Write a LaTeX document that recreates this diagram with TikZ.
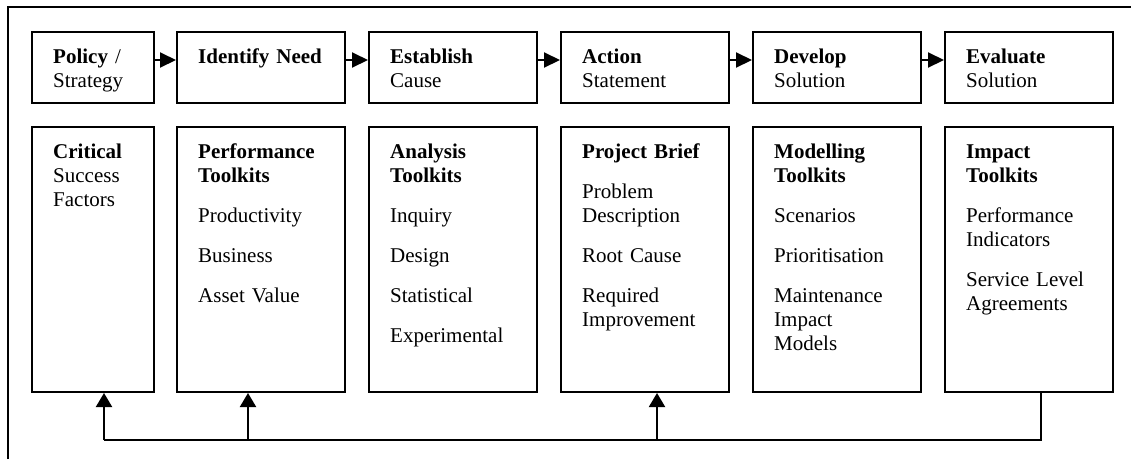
\documentclass[tikz,border=0pt]{standalone}
\usepackage{fontspec}
\setmainfont{Liberation Serif}
\usetikzlibrary{arrows.meta,calc}

\tikzset{
  stagebox/.style={draw=black, line width=2pt, inner sep=0pt, minimum height=71pt},
  toolbox/.style={draw=black, line width=2pt, inner sep=0pt, minimum height=265pt},
  txt/.style={anchor=base west, inner sep=0pt, text width=140pt, align=left,
              font=\fontsize{21}{24}\selectfont},
  flow/.style={line width=2pt, -{Triangle[length=16pt,width=15pt]}},
  feed/.style={line width=2pt, -{Triangle[length=14pt,width=16pt]}},
  plain/.style={line width=2pt},
  frame/.style={line width=1.3pt}
}

\begin{document}
\begin{tikzpicture}[x=1pt,y=-1pt]
\useasboundingbox (0,0) rectangle (1131,459);

% open frame (top and left sides only)
\draw[frame] (8,459) -- (8,7) -- (1131,7);

% stage boxes
\node[stagebox, minimum width=122pt] (t1) at (93,67.5) {};
\node[stagebox, minimum width=168pt] (t2) at (261,67.5) {};
\node[stagebox, minimum width=168pt] (t3) at (453,67.5) {};
\node[stagebox, minimum width=168pt] (t4) at (645,67.5) {};
\node[stagebox, minimum width=168pt] (t5) at (837,67.5) {};
\node[stagebox, minimum width=168pt] (t6) at (1029,67.5) {};

% toolkit boxes
\node[toolbox, minimum width=122pt] (b1) at (93,259.5) {};
\node[toolbox, minimum width=168pt] (b2) at (261,259.5) {};
\node[toolbox, minimum width=168pt] (b3) at (453,259.5) {};
\node[toolbox, minimum width=168pt] (b4) at (645,259.5) {};
\node[toolbox, minimum width=168pt] (b5) at (837,259.5) {};
\node[toolbox, minimum width=168pt] (b6) at (1029,259.5) {};

% stage labels
\node[txt] (t1l) at (53,63)  {\textbf{Policy} /\\Strategy};
\node[txt] (t2l) at (198,63) {\textbf{Identify Need}};
\node[txt] (t3l) at (390,63) {\textbf{Establish}\\Cause};
\node[txt] (t4l) at (582,63) {\textbf{Action}\\Statement};
\node[txt] (t5l) at (774,63) {\textbf{Develop}\\Solution};
\node[txt] (t6l) at (966,63) {\textbf{Evaluate}\\Solution};

% toolkit labels
\node[txt] (b1l) at (53,158)  {\textbf{Critical}\\Success\\Factors};
\node[txt] (b2l) at (198,158) {\textbf{Performance}\\\textbf{Toolkits}\\[16pt]Productivity\\[16pt]Business\\[16pt]Asset Value};
\node[txt] (b3l) at (390,158) {\textbf{Analysis}\\\textbf{Toolkits}\\[16pt]Inquiry\\[16pt]Design\\[16pt]Statistical\\[16pt]Experimental};
\node[txt] (b4l) at (582,158) {\textbf{Project Brief}\\[16pt]Problem\\Description\\[16pt]Root Cause\\[16pt]Required\\Improvement};
\node[txt] (b5l) at (774,158) {\textbf{Modelling}\\\textbf{Toolkits}\\[16pt]Scenarios\\[16pt]Prioritisation\\[16pt]Maintenance\\Impact\\Models};
\node[txt] (b6l) at (966,158) {\textbf{Impact}\\\textbf{Toolkits}\\[16pt]Performance\\Indicators\\[16pt]Service Level\\Agreements};

% stage sequence arrows
\foreach \a/\b in {t1/t2,t2/t3,t3/t4,t4/t5,t5/t6}
  \draw[flow] ([yshift=7.5pt]\a.east) -- ([yshift=7.5pt]\b.west);

% feedback loop
\coordinate (fr) at (1041,440);
\coordinate (f1) at (104,440);
\coordinate (f2) at (248,440);
\coordinate (f4) at (657,440);
\draw[plain] (fr |- b6.south) -- (fr) -- (f1);
\draw[feed] (f1) -- (f1 |- b1.south);
\draw[feed] (f2) -- (f2 |- b2.south);
\draw[feed] (f4) -- (f4 |- b4.south);
\end{tikzpicture}
\end{document}
